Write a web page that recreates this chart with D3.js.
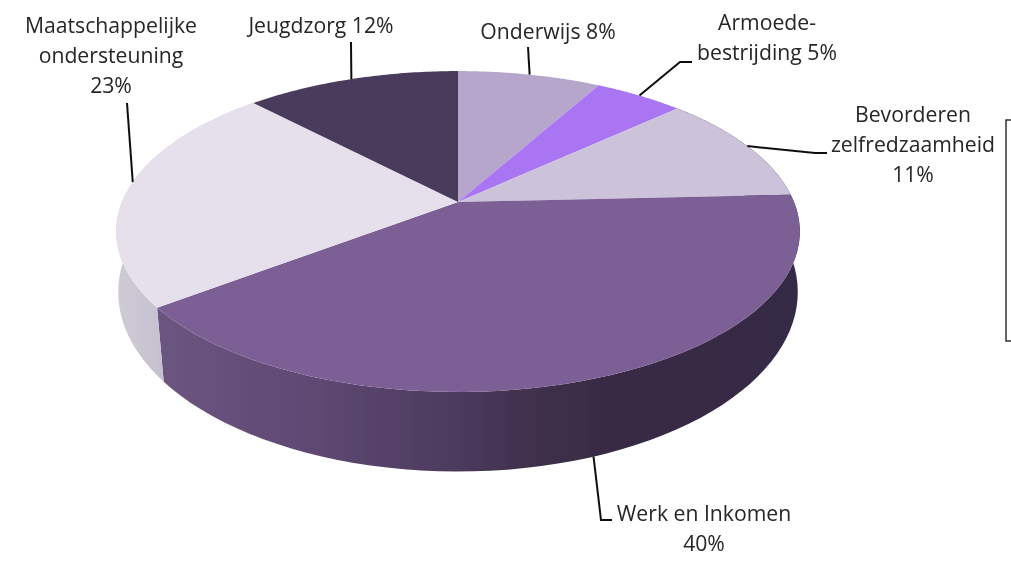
<!DOCTYPE html>
<html><head><meta charset="utf-8">
<script src="https://cdnjs.cloudflare.com/ajax/libs/d3/7.8.5/d3.min.js"></script>
<style>html,body{margin:0;background:#fff}svg{display:block}text{font-family:"Open Sans",sans-serif;font-size:21.2px;fill:#262626;text-anchor:middle}</style>
</head><body><svg id="c" width="1011" height="564"></svg>
<script>
const categories=["Onderwijs","Armoedebestrijding","Bevorderen zelfredzaamheid","Werk en Inkomen","Maatschappelijke ondersteuning","Jeugdzorg"];
const values=[8,5,11,40,23,12];
const topColors=["#b7a6cb","#a974f3","#ccc3da","#7b5f95","#e5e0ec","#4a3a5c"];
const labelLines=[["Onderwijs 8%"],["Armoede-","bestrijding 5%"],["Bevorderen","zelfredzaamheid","11%"],["Werk en Inkomen","40%"],["Maatschappelijke","ondersteuning","23%"],["Jeugdzorg 12%"]];

// layout, kept apart from the data
const labelPos=[[548,39],[767,30],[913,122],[704,521],[111,33],[321,33]];
const leaderBends=[[[528,47]],[[680,62],[692,62]],[[815,153],[827,153]],[[601,520],[612,520]],[[127,103]],[[351,42]]];
const anchorShift=[0,0,0,0.4,3,0];
const seamShift=-1.5*Math.PI/180;
const cx=458,cy=202,a=336,b=155,k=-0.184;

const svg=d3.select("#c");
const defs=svg.append("defs");
defs.append("filter").attr("id","soft").attr("x","-5%").attr("y","-5%").attr("width","110%").attr("height","110%")
  .append("feGaussianBlur").attr("stdDeviation",0.55);
defs.append("filter").attr("id","softT").attr("x","-5%").attr("y","-20%").attr("width","110%").attr("height","140%")
  .append("feGaussianBlur").attr("stdDeviation",0.3);
function grad(id,stops){
  const g=defs.append("linearGradient").attr("id",id).attr("gradientUnits","userSpaceOnUse")
    .attr("x1",116).attr("x2",800).attr("y1",0).attr("y2",0);
  stops.forEach(([x,c])=>g.append("stop").attr("offset",(x-116)/684).attr("stop-color",c));
}
grad("wallDark",[[160,"#6b5580"],[300,"#604a74"],[458,"#4c3a5e"],[540,"#3f2f4b"],[600,"#382c45"],[800,"#362b44"]]);
grad("wallLight",[[116,"#cfcbd6"],[160,"#c6c1cf"]]);
const wallFill=[null,null,"#362b44","url(#wallDark)","url(#wallLight)",null];

const top3=t=>{const u=Math.sin(t),v=-Math.cos(t),w=1+k*v;return [cx+a*u/w,cy+b*v/w];};
const low3=t=>{const [X,Y]=top3(t);return [cx+(X-cx)*0.994,292+(Y-231.5)*1.119];};
const pie=d3.pie().sort(null).value(d=>d)(values);
const line=d3.line();
const samples=(s,e,f)=>d3.range(0,61).map(i=>f(s+(e-s)*i/60));

const g=svg.append("g").attr("filter","url(#soft)");
g.selectAll("path.wall").data(pie.filter((d,i)=>wallFill[i])).enter().append("path").attr("class","wall")
  .attr("d",d=>line([...samples(d.startAngle,d.endAngle,top3),...samples(d.endAngle+seamShift,d.startAngle+seamShift,low3)])+"Z")
  .attr("fill",d=>wallFill[d.index]);
g.selectAll("path.top").data(pie).enter().append("path").attr("class","top")
  .attr("d",d=>line([[cx,cy],...samples(d.startAngle,d.endAngle,top3)])+"Z")
  .attr("fill",d=>topColors[d.index]);

const lg=svg.append("g").attr("filter","url(#softT)");
pie.forEach((d,i)=>{
  const mid=(d.startAngle+d.endAngle)/2+anchorShift[i]*Math.PI/180;
  const p=i===3?low3(mid):top3(mid);
  lg.append("path").attr("d",line([p,...leaderBends[i]])).attr("fill","none").attr("stroke","#111").attr("stroke-width",2);
  labelLines[i].forEach((t,j)=>lg.append("text").attr("x",labelPos[i][0]).attr("y",labelPos[i][1]+j*30).text(t));
});
// cropped legend box at the right edge
lg.append("path").attr("d","M1011,120H1006V341H1011").attr("fill","none").attr("stroke","#333").attr("stroke-width",1.5);
</script></body></html>
